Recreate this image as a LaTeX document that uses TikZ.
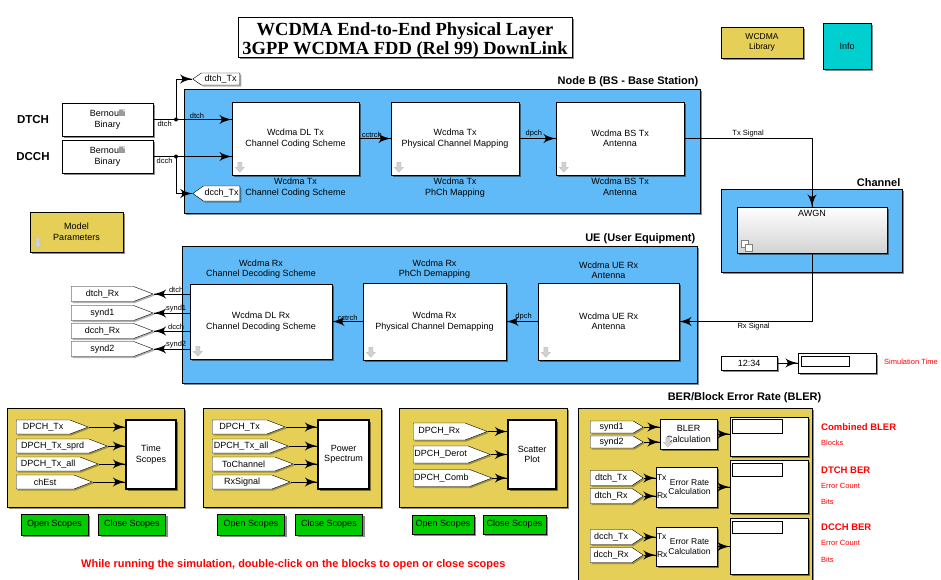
\documentclass[tikz,border=0pt]{standalone}
\usepackage{fontspec}
\setmainfont{Liberation Sans}
\newfontfamily\titlefont{Liberation Serif}
\usetikzlibrary{arrows}
\usetikzlibrary{decorations.markings}
\usetikzlibrary{positioning}
\usetikzlibrary{shapes.symbols}
\usetikzlibrary{shadows}
\definecolor{sysblue}{RGB}{95,186,247}
\definecolor{scopeyellow}{RGB}{229,207,87}
\definecolor{infocyan}{RGB}{0,207,207}
\definecolor{btngreen}{RGB}{0,204,0}
\definecolor{icongray}{RGB}{190,190,190}
\newcommand{\blkfont}{\fontsize{9}{10.5}\selectfont}
\newcommand{\lblfont}{\fontsize{7.5}{9}\selectfont}
\newcommand{\hdrfont}{\bfseries\fontsize{11}{13}\selectfont}
\tikzset{shd/.style = {drop shadow = {shadow xshift = 2pt, shadow yshift = -2pt, opacity = 0.45, fill = black}}}
\tikzset{tagshd/.style = {drop shadow = {shadow xshift = 1.5pt, shadow yshift = -1.5pt, opacity = 0.3, fill = black}}}
\tikzset{sig/.style = {line width = 0.8pt,
                       decoration = {markings, mark = at position 1 with {\arrow[scale = 2.4]{latex'}}},
                       postaction = {decorate}}}
\tikzset{blk/.style = {draw, fill = white, align = center, font = \blkfont, inner sep = 1, shd}}
\tikzset{blkcap/.style = {font = \blkfont, align = center, inner sep = 1}}
\tikzset{syspanel/.style = {draw, fill = sysblue, line width = 1pt, shd}}
\tikzset{scpanel/.style = {draw, fill = scopeyellow, line width = 0.8pt, shd}}
\tikzset{btn/.style = {draw, fill = btngreen, font = \blkfont, minimum width = 67, minimum height = 21, shd}}
\tikzset{tagr/.style = {draw, fill = white, signal, signal to = east, signal pointer angle = 42,
                        inner sep = 1, font = \blkfont, minimum height = 14, tagshd}}
\tikzset{tagl/.style = {tagr, signal to = west}}
\tikzset{lbl/.style = {font = \lblfont, inner sep = 1}}
\tikzset{port/.style = {font = \fontsize{8.5}{9}\selectfont, inner sep = 1, anchor = west}}
\tikzset{hdr/.style = {font = \hdrfont, inner sep = 2}}
\tikzset{disp/.style = {draw, fill = white, shd}}
\tikzset{dispin/.style = {draw, line width = 1pt, anchor = north west}}
\tikzset{dnicon/.pic = {\filldraw [fill = icongray!70, draw = icongray]
                        (-2,-5) -- (2,-5) -- (2,0) -- (4.5,0) -- (0,5) -- (-4.5,0) -- (-2,0) -- cycle;}}
\tikzset{redlbl/.style = {font = \bfseries\fontsize{9.5}{11}\selectfont, text = red, anchor = west, inner sep = 1}}
\tikzset{redsub/.style = {lbl, text = red, anchor = west}}

\begin{document}
\begin{tikzpicture}[x = 1pt, y = -1pt]
          \clip (0, 0) rectangle (941, 579);
          \fill [white] (0, 0) rectangle (941, 579);
          \node [draw, fill = white, shd, minimum width = 334, minimum height = 40] (titlebox) at (405, 37) {};
          \node [align = center, inner sep = 0, font = \titlefont\bfseries\fontsize{18.5}{19}\selectfont] (title) at (405, 40.5)
                {WCDMA End-to-End Physical Layer\\3GPP WCDMA FDD (Rel 99) DownLink};
          \node [blk, fill = scopeyellow, minimum width = 82, minimum height = 31,
                 font = \fontsize{8.5}{9.5}\selectfont] (lib) at (762, 42.5) {WCDMA\\Library};
          \node [blk, fill = infocyan, minimum width = 48, minimum height = 46] (info) at (847, 46) {Info};

          \node [syspanel, minimum width = 516, minimum height = 124] (nodeb) at (442, 151) {};
          \node [hdr, anchor = south east] (nodebhdr) at (nodeb.north east) {Node B (BS - Base Station)};
          \node [blk, minimum width = 127, minimum height = 73] (txcod) at (295.5, 138.5) {Wcdma DL Tx\\Channel Coding Scheme};
          \node [blk, minimum width = 128, minimum height = 73] (txmap) at (455, 138.5) {Wcdma Tx\\Physical Channel Mapping};
          \node [blk, minimum width = 128, minimum height = 73] (txant) at (620, 138.5) {Wcdma BS Tx\\Antenna};
          \node [blkcap, below = 2pt of txcod] (txcodcap) {Wcdma Tx\\Channel Coding Scheme};
          \node [blkcap, below = 2pt of txmap] (txmapcap) {Wcdma Tx\\PhCh Mapping};
          \node [blkcap, below = 2pt of txant] (txantcap) {Wcdma BS Tx\\Antenna};
          \pic at ([shift = {(8, -8)}]txcod.south west) {dnicon};
          \pic at ([shift = {(8, -8)}]txmap.south west) {dnicon};
          \pic at ([shift = {(8, -8)}]txant.south west) {dnicon};
          \draw [sig] (txcod.east) -- (txmap.west) node [lbl, pos = 0.4, above] (cctrchtx) {cctrch};
          \draw [sig] (txmap.east) -- (txant.west) node [lbl, pos = 0.4, above] (dpchtx) {dpch};

          \node [hdr, font = \bfseries\fontsize{11.5}{13}\selectfont] (dtchhdr) at (33, 120) {DTCH};
          \node [hdr, font = \bfseries\fontsize{11.5}{13}\selectfont] (dcchhdr) at (33, 157) {DCCH};
          \node [blk, minimum width = 91, minimum height = 33] (berndtch) at (107.5, 119.5) {Bernoulli\\Binary};
          \node [blk, minimum width = 91, minimum height = 33] (berndcch) at (107.5, 156.5) {Bernoulli\\Binary};
          \coordinate (jdtch) at (176, 119.5);
          \coordinate (jdcch) at (176, 156.5);
          \node [tagl, signal pointer angle = 70, anchor = east, minimum width = 47, minimum height = 12] (dtchtx) at (240, 79) {dtch\_Tx};
          \node [tagl, signal pointer angle = 70, anchor = east, minimum width = 47, minimum height = 15] (dcchtx) at (240, 193.5) {dcch\_Tx};
          \draw [sig] (berndtch.east) -- (jdtch) node [lbl, midway, below] (dtchsig) {dtch}
                      -- (jdtch -| txcod.west) node [lbl, pos = 0.375, above] (dtchsigb) {dtch};
          \draw [sig] (berndcch.east) -- (jdcch) node [lbl, midway, below] (dcchsig) {dcch}
                      -- (jdcch -| txcod.west);
          \draw [sig] (jdtch) |- (dtchtx.west);
          \draw [sig] (jdcch) |- (dcchtx.west);
          \fill (jdtch) circle (2);
          \fill (jdcch) circle (2);

          \node [blk, fill = scopeyellow, minimum width = 93, minimum height = 40] (mparam) at (76.5, 232) {Model\\Parameters};
          \pic at ([shift = {(8, -9)}]mparam.south west) {dnicon};

          \node [syspanel, minimum width = 181, minimum height = 83] (chan) at (811.5, 230.5) {};
          \node [hdr, anchor = south east] (chanhdr) at (chan.north east) {Channel};
          \node [draw, top color = white, bottom color = gray!35, minimum width = 150, minimum height = 46, shd] (awgn) at (812, 230) {};
          \node [blkcap, below = 2pt of awgn.north] (awgntxt) {AWGN};
          \draw [fill = white, draw = gray] ([shift = {(4, -13)}]awgn.south west) rectangle +(7, 7);
          \draw [fill = white, draw = gray] ([shift = {(8, -9)}]awgn.south west) rectangle +(7, 7);

          \node [syspanel, minimum width = 515, minimum height = 137] (ue) at (439.5, 314.5) {};
          \node [hdr, anchor = south east] (uehdr) at (ue.north east) {UE (User Equipment)};
          \node [blk, minimum width = 142, minimum height = 75] (dlrx) at (261, 321.5) {Wcdma DL Rx\\Channel Decoding Scheme};
          \node [blk, minimum width = 143, minimum height = 77] (phdem) at (434.5, 321.5) {Wcdma Rx\\Physical Channel Demapping};
          \node [blk, minimum width = 141, minimum height = 77] (uerx) at (608.5, 321.5) {Wcdma UE Rx\\Antenna};
          \node [blkcap, above = 4pt of dlrx] (dlrxcap) {Wcdma Rx\\Channel Decoding Scheme};
          \node [blkcap, above = 3pt of phdem] (phdemcap) {Wcdma Rx\\PhCh Demapping};
          \node [blkcap, above = 3pt of uerx] (uerxcap) {Wcdma UE Rx\\Antenna};
          \pic at ([shift = {(8, -8)}]dlrx.south west) {dnicon};
          \pic at ([shift = {(8, -8)}]phdem.south west) {dnicon};
          \pic at ([shift = {(8, -8)}]uerx.south west) {dnicon};
          \draw [sig] (uerx.west) -- (phdem.east) node [lbl, pos = 0.45, above] (dpchrx) {dpch};
          \draw [sig] (phdem.west) -- (dlrx.east) node [lbl, pos = 0.5, above] (cctrchrx) {cctrch};
          \draw [sig] (txant.east) -| (awgn.north) node [lbl, pos = 0.25, above] (txsig) {Tx Signal};
          \draw [sig] (awgn.south) |- (uerx.east) node [lbl, pos = 0.72, below] (rxsig) {Rx Signal};

          \node [tagr, anchor = west, minimum width = 82, minimum height = 15] (dtchrx) at (71, 294) {dtch\_Rx};
          \node [tagr, anchor = west, minimum width = 82, minimum height = 15] (syndrxa) at (71, 313) {synd1};
          \node [tagr, anchor = west, minimum width = 82, minimum height = 15] (dcchrx) at (71, 331) {dcch\_Rx};
          \node [tagr, anchor = west, minimum width = 82, minimum height = 15] (syndrxb) at (71, 349) {synd2};
          \draw [sig] (dtchrx -| dlrx.west) -- (dtchrx.east) node [lbl, pos = 0.38, above] (dtchout) {dtch};
          \draw [sig] (syndrxa -| dlrx.west) -- (syndrxa.east) node [lbl, pos = 0.38, above] (syndouta) {synd1};
          \draw [sig] (dcchrx -| dlrx.west) -- (dcchrx.east) node [lbl, pos = 0.38, above] (dcchout) {dcch};
          \draw [sig] (syndrxb -| dlrx.west) -- (syndrxb.east) node [lbl, pos = 0.38, above] (syndoutb) {synd2};

          \node [blk, minimum width = 56, minimum height = 14] (clock) at (749, 363) {12:34};
          \node [disp, minimum width = 78, minimum height = 20] (simdisp) at (837, 363) {};
          \node [dispin, minimum width = 48, minimum height = 10] (simdispin) at ([shift = {(3, 3)}]simdisp.north west) {};
          \draw [sig] (clock) -- (simdisp);
          \node [redsub] (simtime) at (883, 362) {Simulation Time};

          \node [scpanel, minimum width = 177, minimum height = 99] (scpa) at (95.5, 457.5) {};
          \node [tagr, anchor = west, minimum width = 72] (patx) at (16, 427) {DPCH\_Tx};
          \node [tagr, anchor = west, minimum width = 91] (pasprd) at (16, 446) {DPCH\_Tx\_sprd};
          \node [tagr, anchor = west, minimum width = 82] (paall) at (16, 464) {DPCH\_Tx\_all};
          \node [tagr, anchor = west, minimum width = 76] (paest) at (16, 482) {chEst};
          \node [blk, line width = 1.5pt, minimum width = 50, minimum height = 69] (tscope) at (151, 454.5) {Time\\Scopes};
          \foreach \t in {patx, pasprd, paall, paest}
            \draw [sig] (\t.east) -- (\t.east -| tscope.west);
          \node [btn] (opena) at (54.5, 524.5) {Open Scopes};
          \node [btn] (closea) at (132, 524.5) {Close Scopes};

          \node [scpanel, minimum width = 178, minimum height = 99] (scpb) at (292, 457.5) {};
          \node [tagr, anchor = west, minimum width = 73] (pbtx) at (212, 427) {DPCH\_Tx};
          \node [tagr, anchor = west, minimum width = 76] (pball) at (212, 446) {DPCH\_Tx\_all};
          \node [tagr, anchor = west, minimum width = 81] (pbchan) at (212, 464) {ToChannel};
          \node [tagr, anchor = west, minimum width = 78] (pbrx) at (212, 482) {RxSignal};
          \node [blk, line width = 1.5pt, minimum width = 51, minimum height = 69] (pspec) at (343.5, 454.5) {Power\\Spectrum};
          \foreach \t in {pbtx, pball, pbchan, pbrx}
            \draw [sig] (\t.east) -- (\t.east -| pspec.west);
          \node [btn] (openb) at (251, 524.5) {Open Scopes};
          \node [btn] (closeb) at (329, 524.5) {Close Scopes};

          \node [scpanel, minimum width = 168, minimum height = 99] (scpc) at (483, 457.5) {};
          \node [tagr, anchor = west, minimum width = 74, minimum height = 17] (pcrx) at (413, 431.5) {DPCH\_Rx};
          \node [tagr, anchor = west, minimum width = 77, minimum height = 17] (pcderot) at (413, 454.5) {DPCH\_Derot};
          \node [tagr, anchor = west, minimum width = 77, minimum height = 17] (pccomb) at (413, 478) {DPCH\_Comb};
          \node [blk, line width = 1.5pt, minimum width = 48, minimum height = 69] (scplot) at (532, 454.5) {Scatter\\Plot};
          \foreach \t in {pcrx, pcderot, pccomb}
            \draw [sig] (\t.east) -- (\t.east -| scplot.west);
          \node [btn, minimum width = 62, minimum height = 19] (openc) at (443, 524.5) {Open Scopes};
          \node [btn, minimum width = 63, minimum height = 19] (closec) at (514.5, 524.5) {Close Scopes};

          \node [scpanel, anchor = north west, minimum width = 234, minimum height = 200] (berp) at (578, 408) {};
          \node [hdr] (berhdr) at (744.5, 398) {BER/Block Error Rate (BLER)};
          \node [tagr, signal pointer angle = 62, anchor = west, minimum width = 53, minimum height = 12] (bsynda) at (590, 427) {synd1};
          \node [tagr, signal pointer angle = 62, anchor = west, minimum width = 53, minimum height = 12] (bsyndb) at (590, 442) {synd2};
          \node [tagr, signal pointer angle = 68, anchor = west, minimum width = 53, minimum height = 15] (bdtx) at (590, 478) {dtch\_Tx};
          \node [tagr, signal pointer angle = 68, anchor = west, minimum width = 53, minimum height = 15] (bdrx) at (590, 496) {dtch\_Rx};
          \node [tagr, signal pointer angle = 68, anchor = west, minimum width = 53, minimum height = 15] (bctx) at (590, 537) {dcch\_Tx};
          \node [tagr, signal pointer angle = 68, anchor = west, minimum width = 53, minimum height = 15] (bcrx) at (590, 555) {dcch\_Rx};
          \node [blk, minimum width = 57, minimum height = 30] (bler) at (688.5, 434) {BLER\\Calculation};
          \pic at ([shift = {(8, -7)}]bler.south west) {dnicon};
          \node [blk, font = \fontsize{8.5}{9.5}\selectfont, minimum width = 61, minimum height = 40] (erra) at (686.5, 487)
                {\hspace*{6pt}Error Rate\\\hspace*{6pt}Calculation};
          \node [blk, font = \fontsize{8.5}{9.5}\selectfont, minimum width = 61, minimum height = 39] (errb) at (686.5, 546.5)
                {\hspace*{6pt}Error Rate\\\hspace*{6pt}Calculation};
          \node [port] (erratx) at (erra.west |- bdtx) {Tx};
          \node [port] (errarx) at (erra.west |- bdrx) {Rx};
          \node [port] (errbtx) at (errb.west |- bctx) {Tx};
          \node [port] (errbrx) at (errb.west |- bcrx) {Rx};
          \draw [sig] (bsynda.east) -- (bsynda.east -| bler.west);
          \draw [sig] (bsyndb.east) -- (bsyndb.east -| bler.west);
          \draw [sig] (bdtx.east) -- (bdtx.east -| erra.west);
          \draw [sig] (bdrx.east) -- (bdrx.east -| erra.west);
          \draw [sig] (bctx.east) -- (bctx.east -| errb.west);
          \draw [sig] (bcrx.east) -- (bcrx.east -| errb.west);
          \node [disp, minimum width = 78, minimum height = 39] (dispa) at (769, 436.5) {};
          \node [disp, minimum width = 78, minimum height = 53] (dispb) at (769, 486.5) {};
          \node [disp, minimum width = 78, minimum height = 56] (dispc) at (769, 546) {};
          \node [dispin, minimum width = 50, minimum height = 14] (dispain) at ([shift = {(2, 2)}]dispa.north west) {};
          \node [dispin, minimum width = 50, minimum height = 13] (dispbin) at ([shift = {(2, 3)}]dispb.north west) {};
          \node [dispin, minimum width = 50, minimum height = 12] (dispcin) at ([shift = {(2, 3)}]dispc.north west) {};
          \draw [sig] (bler.east) -- (bler.east -| dispa.west);
          \draw [sig] (erra.east) -- (erra.east -| dispb.west);
          \draw [sig] (errb.east) -- (errb.east -| dispc.west);

          \node [redlbl] (cblerlbl) at (820, 427) {Combined BLER};
          \node [redsub] (cblerblk) at (820, 443) {Blocks};
          \node [redlbl] (dtchber) at (820, 470) {DTCH BER};
          \node [redsub] (dtchcnt) at (820, 486) {Error Count};
          \node [redsub] (dtchbits) at (820, 502) {Bits};
          \node [redlbl] (dcchber) at (820, 527) {DCCH BER};
          \node [redsub] (dcchcnt) at (820, 543) {Error Count};
          \node [redsub] (dcchbits) at (820, 560) {Bits};

          \node [font = \bfseries\fontsize{11}{13}\selectfont, text = red, anchor = west, inner sep = 0] (runnote) at (81, 565)
                {While running the simulation, double-click on the blocks to open or close scopes};
        \end{tikzpicture}
\end{document}
